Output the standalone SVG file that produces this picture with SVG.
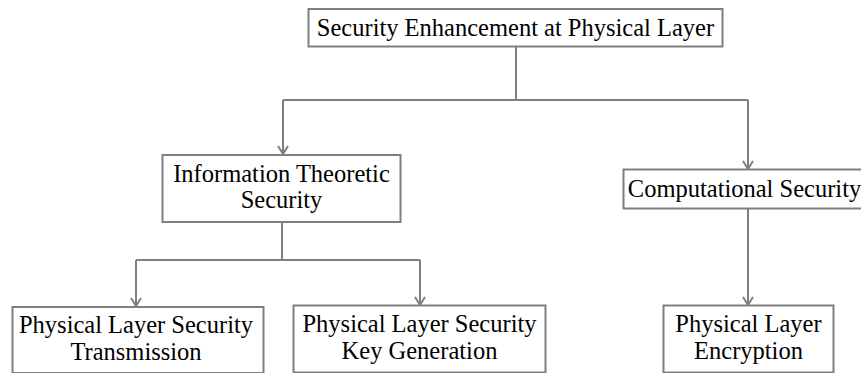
<svg xmlns="http://www.w3.org/2000/svg" width="861" height="373" viewBox="0 0 861 373">
  <style>
    .box { fill: #ffffff; stroke: #7f7f7f; stroke-width: 2; }
    .lbl { font-family: "Liberation Serif", "Times New Roman", serif; font-size: 24.5px; fill: #000000; text-anchor: middle; }
    .wire { fill: none; stroke: #7f7f7f; stroke-width: 2; }
  </style>
  <defs>
    <!-- open chevron arrowhead, drawn along +x so orient="auto" follows the wire -->
    <marker id="chev" viewBox="0 0 10 12" refX="9" refY="6" markerWidth="10" markerHeight="12" markerUnits="userSpaceOnUse" orient="auto">
      <path d="M1 1 L9 6 L1 11" fill="none" stroke="#7f7f7f" stroke-width="2"/>
    </marker>
  </defs>

  <g id="connectors">
    <!-- root fan-out -->
    <path class="wire" d="M516 47 V100"/>
    <path class="wire" d="M283 100 H748"/>
    <path class="wire" d="M283 100 V154" marker-end="url(#chev)"/>
    <path class="wire" d="M748 100 V169" marker-end="url(#chev)"/>
    <!-- information theoretic branch -->
    <path class="wire" d="M282 222 V260"/>
    <path class="wire" d="M136 260 H420"/>
    <path class="wire" d="M136 260 V306" marker-end="url(#chev)"/>
    <path class="wire" d="M420 260 V305" marker-end="url(#chev)"/>
    <!-- computational branch -->
    <path class="wire" d="M748 209 V305" marker-end="url(#chev)"/>
  </g>

  <g id="root">
    <rect class="box" x="308.5" y="9" width="414" height="37.5"/>
    <text class="lbl" x="515.5" y="36">Security Enhancement at Physical Layer</text>
  </g>

  <g id="info-theoretic">
    <rect class="box" x="162.5" y="155" width="238" height="67"/>
    <text class="lbl" x="281.5" y="182">Information Theoretic</text>
    <text class="lbl" x="281.5" y="208">Security</text>
  </g>

  <g id="computational">
    <rect class="box" x="623.5" y="169.5" width="250" height="39"/>
    <text class="lbl" x="744.5" y="197">Computational Security</text>
  </g>

  <g id="pls-transmission">
    <rect class="box" x="12.5" y="307" width="251" height="66"/>
    <text class="lbl" x="136" y="333">Physical Layer Security</text>
    <text class="lbl" x="136" y="360">Transmission</text>
  </g>

  <g id="pls-keygen">
    <rect class="box" x="293.5" y="305.5" width="252" height="67"/>
    <text class="lbl" x="419.5" y="332">Physical Layer Security</text>
    <text class="lbl" x="419.5" y="359">Key Generation</text>
  </g>

  <g id="encryption">
    <rect class="box" x="663.5" y="305.5" width="170" height="67"/>
    <text class="lbl" x="748.5" y="332">Physical Layer</text>
    <text class="lbl" x="748.5" y="359">Encryption</text>
  </g>
</svg>
